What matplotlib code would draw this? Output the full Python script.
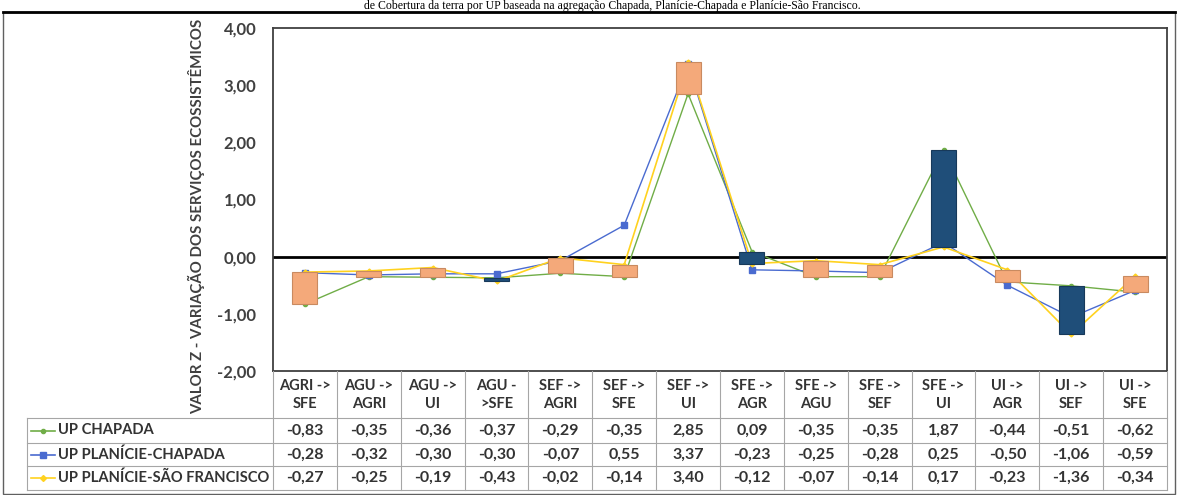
import matplotlib.pyplot as plt
from matplotlib.lines import Line2D
from matplotlib.patches import Rectangle
import numpy as np

plt.rcParams['font.family'] = ['Lato', 'DejaVu Sans']
plt.rcParams['font.weight'] = 'bold'

categories = ["AGRI ->\nSFE", "AGU ->\nAGRI", "AGU ->\nUI", "AGU -\n>SFE", "SEF ->\nAGRI",
              "SEF ->\nSFE", "SEF ->\nUI", "SFE ->\nAGR", "SFE ->\nAGU", "SFE ->\nSEF",
              "SFE ->\nUI", "UI ->\nAGR", "UI ->\nSEF", "UI ->\nSFE"]
up_chapada = [-0.83, -0.35, -0.36, -0.37, -0.29, -0.35, 2.85, 0.09, -0.35, -0.35, 1.87, -0.44, -0.51, -0.62]
up_planicie_chapada = [-0.28, -0.32, -0.30, -0.30, -0.07, 0.55, 3.37, -0.23, -0.25, -0.28, 0.25, -0.50, -1.06, -0.59]
up_planicie_sf = [-0.27, -0.25, -0.19, -0.43, -0.02, -0.14, 3.40, -0.12, -0.07, -0.14, 0.17, -0.23, -1.36, -0.34]
series_names = ["UP CHAPADA", "UP PLANÍCIE-CHAPADA", "UP PLANÍCIE-SÃO FRANCISCO"]
yticks = [-2, -1, 0, 1, 2, 3, 4]

green = '#70AD47'
blue = '#4A6BD0'
yellow = '#FFD21F'
orange = '#F4A97A'
navy = '#1F4E79'
txt = '#333333'

W, H = 1179, 495
def rect(l, t, r, b):
    return [l / W, 1 - b / H, (r - l) / W, (b - t) / H]

fig = plt.figure(figsize=(W / 100, H / 100), dpi=100)

# outer frame
fig.add_artist(Rectangle((3 / W, 1 / H), 1172 / W, (H - 13) / H, transform=fig.transFigure,
                         fill=False, edgecolor='#606060', lw=1))
fig.add_artist(Line2D([3 / W, 1175 / W], [1 - 12 / H, 1 - 12 / H], transform=fig.transFigure,
                      color='black', lw=2))
fig.text(612 / W, 1 - 9 / H, "de Cobertura da terra por UP baseada na agregação Chapada, Planície-Chapada e Planície-São Francisco.",
         family='Liberation Serif', fontweight='normal', fontsize=8.5, ha='center', va='baseline', color='black')

# chart
ax = fig.add_axes(rect(273, 28, 1167, 371))
x = np.arange(len(categories))
ax.axhline(0, color='black', lw=2, zorder=1.5)
ax.plot(x, up_chapada, color=green, lw=1, marker='o', ms=3, zorder=2)
ax.plot(x, up_planicie_chapada, color=blue, lw=1, marker='s', ms=4, zorder=2)
ax.plot(x, up_planicie_sf, color=yellow, lw=1.2, marker='D', ms=2.5, zorder=2)

first = np.array(up_chapada)
last = np.array(up_planicie_sf)
diff = last - first
bar_colors = [orange if d >= 0 else navy for d in diff]
edge_colors = ['#C98A60' if d >= 0 else '#17395A' for d in diff]
ax.bar(x, diff, bottom=first, width=0.39, color=bar_colors, edgecolor=edge_colors, lw=0.8, zorder=3)

ax.set_xlim(-0.5, len(categories) - 0.5)
ax.set_ylim(-2, 4)
ax.set_xticks([])
ax.set_yticks(yticks)
ax.set_yticklabels([f"{v:.2f}".replace('.', ',') for v in yticks], fontsize=12, color='#404040')
ax.tick_params(axis='y', length=0, pad=12)
for s in ax.spines.values():
    s.set_color('#404040')
    s.set_linewidth(1.3)

fig.text(197 / W, 1 - 216 / H, "VALOR Z - VARIAÇÃO DOS SERVIÇOS ECOSSISTÊMICOS", rotation=90,
         ha='center', va='center', fontsize=10.8, color='#404040')

# data table
tax = fig.add_axes(rect(27, 371, 1167, 490))
ppu = 894 / len(categories)
xmin = -0.5 - 246 / ppu
tax.set_xlim(xmin, len(categories) - 0.5)
tax.set_ylim(119, 0)
tax.axis('off')

def px2u(px):
    return xmin + (px - 27) / ppu

grid = '#A6A6A6'
rows_y = [47, 72, 95, 119]
for i in range(len(categories) + 1):
    tax.plot([i - 0.5, i - 0.5], [0, 119], color=grid, lw=0.8, clip_on=False)
tax.plot([xmin, xmin], [47, 119], color=grid, lw=0.8, clip_on=False)
for yy in rows_y:
    tax.plot([xmin, len(categories) - 0.5], [yy, yy], color=grid, lw=0.8, clip_on=False)

for i, c in enumerate(categories):
    tax.text(i, 24, c, ha='center', va='center', fontsize=10.5, color=txt, linespacing=1.3)

table = [up_chapada, up_planicie_chapada, up_planicie_sf]
colors = [green, blue, yellow]
markers = ['o', 's', 'D']
msz = [3, 4, 3]
for r, (vals, name) in enumerate(zip(table, series_names)):
    yc = (rows_y[r] + rows_y[r + 1]) / 2
    for i, v in enumerate(vals):
        tax.text(i, yc, f"{v:.2f}".replace('.', ','), ha='center', va='center', fontsize=11.5, color=txt)
    tax.plot([px2u(31), px2u(55)], [yc, yc], color=colors[r], lw=1.2, clip_on=False)
    tax.plot([px2u(43)], [yc], marker=markers[r], color=colors[r], ms=msz[r], clip_on=False)
    tax.text(px2u(58), yc, name, ha='left', va='center', fontsize=10.6, color=txt)

fig.savefig('out.png', dpi=100)
